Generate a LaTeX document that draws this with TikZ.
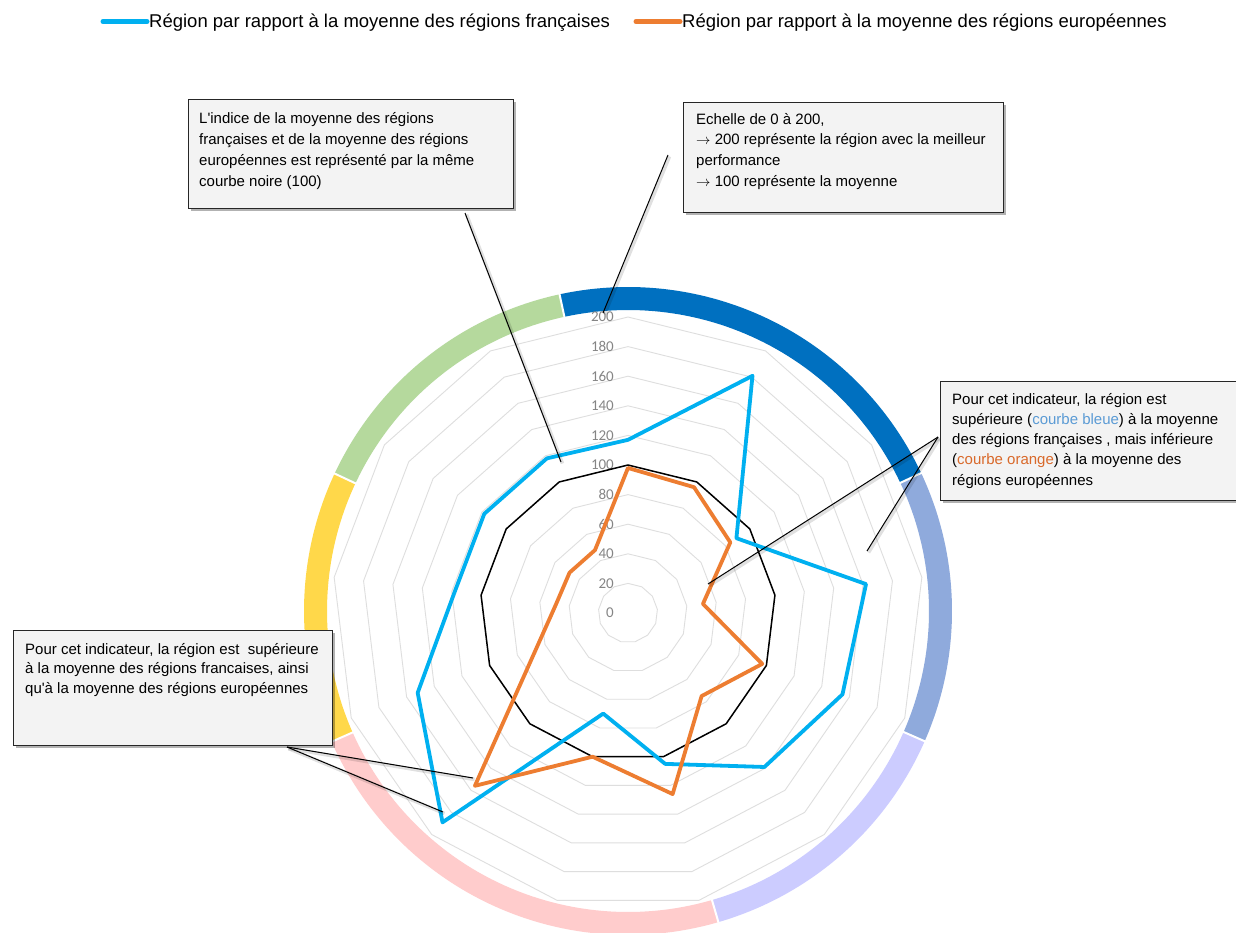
\documentclass[tikz,border=0pt]{standalone}
\usepackage{fontspec}
\newfontfamily\arialfont{Liberation Sans}
\newfontfamily\calfont{Carlito}
\usetikzlibrary{shadows}
\definecolor{serieblue}{HTML}{00B0F0}
\definecolor{serieorange}{HTML}{ED7D31}
\definecolor{gridgray}{HTML}{DEDEDE}
\definecolor{labelgray}{HTML}{858585}
\definecolor{ringA}{HTML}{0070C0}
\definecolor{ringB}{HTML}{8FAADC}
\definecolor{ringC}{HTML}{CCCCFF}
\definecolor{ringD}{HTML}{FFCCCC}
\definecolor{ringE}{HTML}{FFD84A}
\definecolor{ringF}{HTML}{B5D99D}
\definecolor{boxfill}{HTML}{F3F3F3}
\definecolor{txtblue}{HTML}{5B9BD5}
\definecolor{txtorange}{HTML}{D9692A}

\begin{document}
\begin{tikzpicture}[x=1pt,y=-1pt,
  gridline/.style={draw=gridgray, line width=0.9pt},
  gridlab/.style={font=\calfont\fontsize{15}{17}\selectfont, text=labelgray, anchor=east, inner sep=0pt},
  ringseg/.style={line width=23pt},
  ringcut/.style={draw=white, line width=2pt},
  avgline/.style={draw=black, line width=1.5pt, line join=round},
  blueline/.style={draw=serieblue, line width=3.8pt, line join=round},
  orangeline/.style={draw=serieorange, line width=3.8pt, line join=round},
  legtext/.style={font=\arialfont\fontsize{18.5}{22}\selectfont, anchor=base west, inner sep=0pt},
  legswatch/.style={line width=5pt, line cap=round},
  notebox/.style={draw=black!85, line width=1.4pt, fill=boxfill, anchor=north west, inner sep=0pt,
    drop shadow={shadow xshift=2.5pt, shadow yshift=-2.5pt, fill=black, opacity=0.3}},
  notetext/.style={align=left, anchor=north west, inner sep=0pt},
  pointer/.style={draw=black, line width=1pt,
    preaction={draw=black, opacity=0.12, line width=3.5pt, transform canvas={shift={(1.5pt,-1.5pt)}}}}
]
% page frame
\path[use as bounding box] (0,0) rectangle (1236,933);
\clip (0,0) rectangle (1236,933);
\fill[white] (0,0) rectangle (1236,933);

% legend
\draw[legswatch, serieblue] (103,21.5) -- (147,21.5);
\node[legtext] (legA) at (149,27.5) {Région par rapport à la moyenne des régions françaises};
\draw[legswatch, serieorange] (636,21.5) -- (680,21.5);
\node[legtext] (legB) at (682,27.5) {Région par rapport à la moyenne des régions européennes};

% concentric grid (13 axes, step 20)
\foreach \g in {1,...,10}
  \draw[gridline] (628,{613-29.6*\g})
    \foreach \k in {1,...,12}{ -- ({628+29.6*\g*sin(\k*360/13)},{613-29.6*\g*cos(\k*360/13)}) } -- cycle;

% outer coloured ring
\foreach \a/\b/\c in {-12.2/64.8/ringA, 64.8/113.7/ringB, 113.7/163.8/ringC,
                      163.8/246.2/ringD, 246.2/295.1/ringE, 295.1/347.8/ringF}
  \draw[ringseg, draw=\c] plot[domain=\a:\b, samples=60, variable=\t]
    ({628+312.5*sin(\t)},{611-312.5*cos(\t)});
\foreach \a in {-12.2,64.8,113.7,163.8,246.2,295.1}
  \draw[ringcut] ({628+299*sin(\a)},{611-299*cos(\a)}) -- ({628+326*sin(\a)},{611-326*cos(\a)});

% scale labels
\foreach \g [evaluate=\g as \val using int(20*\g)] in {0,...,10}
  \node[gridlab] (lab\g) at (614,{613-29.6*\g}) {\val};

% series points
\foreach \v [count=\i from 0] in {100,100,100,100,100,100,100,100,100,100,100,100,100}
  \coordinate (m\i) at ({628+1.48*\v*sin(\i*360/13)},{613-1.48*\v*cos(\i*360/13)});
\foreach \v [count=\i from 0] in {117,181,89,162,155,139,105,70,189,152,118,118,118}
  \coordinate (b\i) at ({628+1.48*\v*sin(\i*360/13)},{613-1.48*\v*cos(\i*360/13)});
\foreach \v [count=\i from 0] in {98,96,84,51,97,75,126,100,156,66,49,48,48}
  \coordinate (o\i) at ({628+1.48*\v*sin(\i*360/13)},{613-1.48*\v*cos(\i*360/13)});

\draw[avgline] (m0) -- (m1) -- (m2) -- (m3) -- (m4) -- (m5) -- (m6) -- (m7) -- (m8) -- (m9) -- (m10) -- (m11) -- (m12) -- cycle;
\draw[blueline] (b0) -- (b1) -- (b2) -- (b3) -- (b4) -- (b5) -- (b6) -- (b7) -- (b8) -- (b9) -- (b10) -- (b11) -- (b12) -- cycle;
\draw[orangeline] (o0) -- (o1) -- (o2) -- (o3) -- (o4) -- (o5) -- (o6) -- (o7) -- (o8) -- (o9) -- (o10) -- (o11) -- (o12) -- cycle;

% pointers of the notes
\coordinate (p1a) at (465,213);  \coordinate (p1b) at (561,462);
\coordinate (p2a) at (668,155);  \coordinate (p2b) at (603,313);
\coordinate (p3a) at (938,437);  \coordinate (p3b) at (708,584);  \coordinate (p3c) at (867,551);
\coordinate (p4a) at (287,747);  \coordinate (p4b) at (473,778);  \coordinate (p4c) at (443,812);
\draw[pointer] (p1a) -- (p1b);
\draw[pointer] (p2a) -- (p2b);
\draw[pointer] (p3a) -- (p3b);
\draw[pointer] (p3a) -- (p3c);
\draw[pointer] (p4a) -- (p4b);
\draw[pointer] (p4a) -- (p4c);

% notes
\node[notebox, minimum width=325pt, minimum height=109pt] (note1) at (188,99) {};
\node[notetext, font=\arialfont\fontsize{15}{21}\selectfont] (note1text) at (199,{123-14.7}) {%
\strut L'indice de la moyenne des régions\\
françaises et de la moyenne des régions\\
européennes est représenté par la même\\
courbe noire (100)};

\node[notebox, minimum width=320pt, minimum height=110pt] (note2) at (683,102) {};
\node[notetext, font=\arialfont\fontsize{15}{20.8}\selectfont] (note2text) at (696,{124-14.56}) {%
\strut Echelle de 0 à 200,\\
$\rightarrow$ 200 représente la région avec la meilleur\\
performance\\
$\rightarrow$ 100 représente la moyenne};

\node[notebox, minimum width=330pt, minimum height=119pt] (note3) at (940,381) {};
\node[notetext, font=\arialfont\fontsize{15}{20.2}\selectfont] (note3text) at (952,{404-14.14}) {%
\strut Pour cet indicateur, la région est\\
supérieure (\textcolor{txtblue}{courbe bleue}) à la moyenne\\
des régions françaises , mais inférieure\\
(\textcolor{txtorange}{courbe orange}) à la moyenne des\\
régions européennes};

\node[notebox, minimum width=319pt, minimum height=115pt] (note4) at (13,630) {};
\node[notetext, font=\arialfont\fontsize{15}{19.7}\selectfont] (note4text) at (25,{654-13.79}) {%
\strut Pour cet indicateur, la région est\ \ supérieure\\
à la moyenne des régions francaises, ainsi\\
qu'à la moyenne des régions européennes};
\end{tikzpicture}
\end{document}
